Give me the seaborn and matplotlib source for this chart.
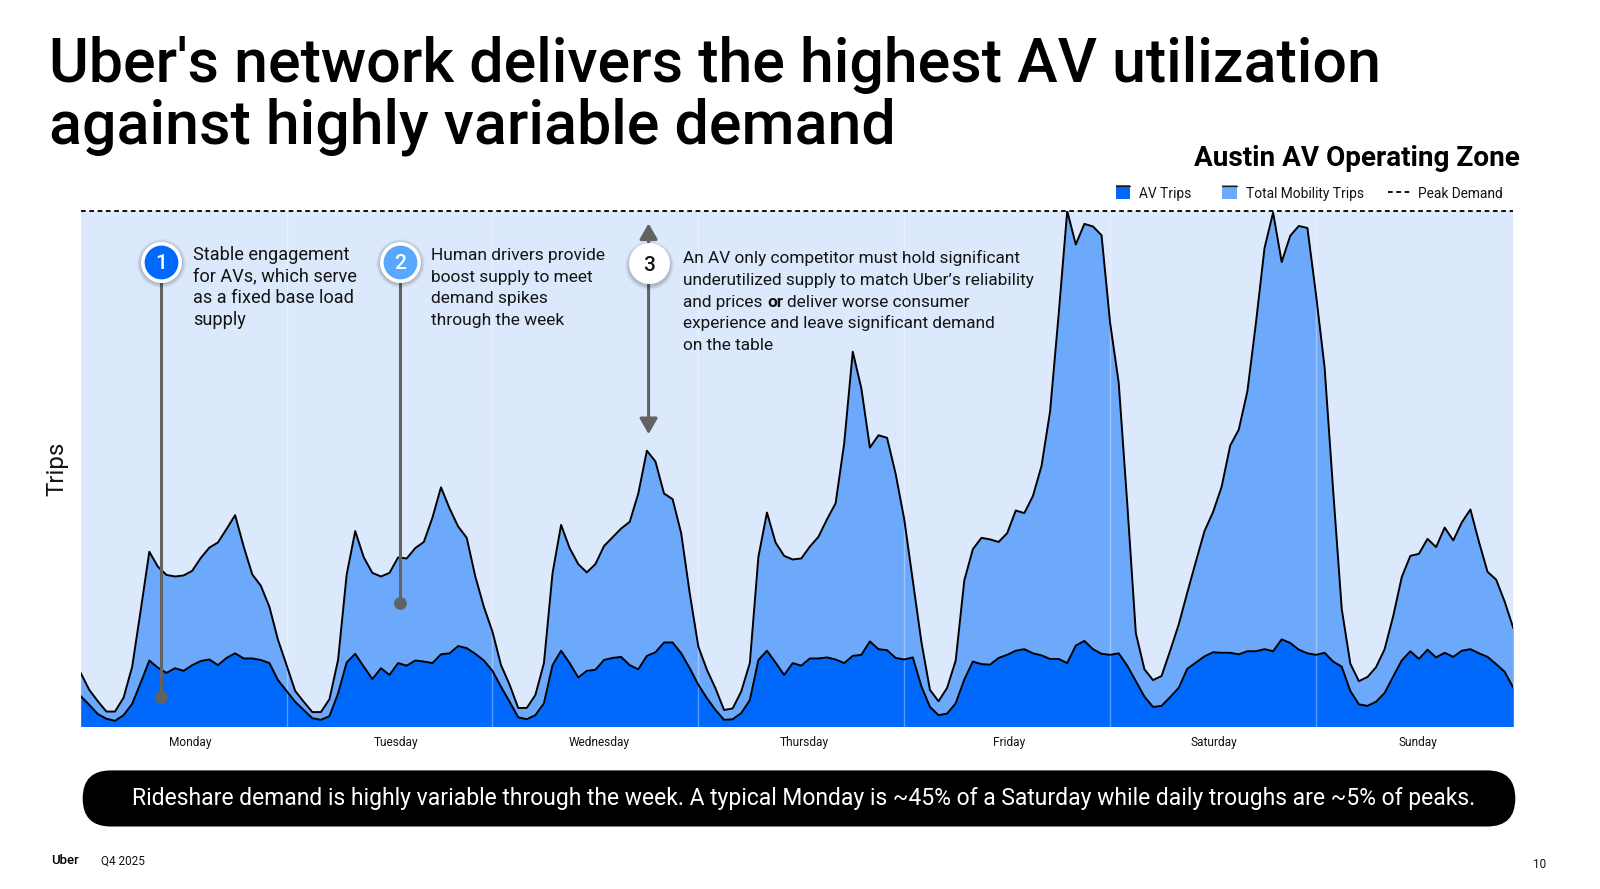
import matplotlib
matplotlib.use("Agg")
import matplotlib.pyplot as plt
import matplotlib.transforms as mtransforms
import numpy as np
import seaborn as sns
from matplotlib.lines import Line2D
from matplotlib.patches import FancyBboxPatch, Rectangle

DPI = 100
FIG_W, FIG_H = 1600, 889

# hourly trips for one week, scaled so the weekly peak = 100
TOTAL_TRIPS = [
    10.4, 7.1, 4.9, 2.9, 2.9, 5.6, 11.6, 22.6, 33.9, 31.0,
    29.4, 29.1, 29.3, 30.2, 32.7, 34.7, 35.7, 38.3, 41.0, 34.9,
    29.5, 27.3, 23.2, 16.8, 11.9, 6.9, 4.8, 2.8, 2.8, 5.3,
    12.9, 29.4, 37.9, 32.8, 29.8, 29.1, 29.8, 32.8, 32.6, 34.6,
    35.8, 40.5, 46.4, 42.3, 38.8, 36.6, 29.1, 23.2, 18.4, 11.9,
    8.1, 3.6, 3.6, 6.1, 12.3, 29.7, 39.1, 34.6, 31.5, 29.9,
    31.5, 35.0, 36.7, 38.4, 39.7, 45.2, 53.5, 51.4, 45.2, 44.1,
    37.5, 25.8, 15.5, 11.0, 7.4, 3.2, 3.5, 6.8, 12.3, 32.9,
    41.5, 35.7, 33.1, 32.4, 32.6, 34.9, 36.8, 40.2, 43.3, 54.9,
    72.7, 65.6, 54.1, 56.5, 56.0, 49.0, 40.2, 28.3, 16.4, 7.1,
    4.9, 7.5, 12.8, 28.3, 34.4, 36.6, 36.3, 35.8, 37.5, 41.9,
    41.4, 44.7, 50.5, 61.1, 79.9, 100.0, 93.5, 97.5, 97.0, 95.3,
    78.3, 66.7, 43.2, 18.1, 11.1, 9.0, 9.8, 14.7, 19.8, 26.0,
    32.0, 37.9, 41.6, 46.5, 54.5, 57.6, 65.0, 78.3, 92.8, 99.7,
    90.1, 95.2, 97.1, 96.7, 83.8, 69.7, 45.8, 22.8, 12.2, 8.8,
    9.6, 11.5, 15.0, 21.4, 29.0, 33.1, 33.5, 36.4, 34.8, 38.6,
    36.1, 39.6, 42.1, 35.8, 30.0, 28.5, 24.2, 19.1,
]
AV_TRIPS = [
    5.9, 4.2, 2.4, 1.5, 1.1, 2.2, 4.4, 8.5, 12.8, 11.4,
    10.4, 11.3, 10.8, 11.9, 12.7, 13.0, 11.9, 13.3, 14.2, 13.2,
    13.2, 12.9, 12.3, 9.0, 6.9, 4.8, 3.2, 1.6, 1.3, 2.0,
    6.4, 12.4, 14.1, 11.6, 9.2, 11.3, 10.0, 12.3, 11.8, 12.8,
    12.6, 12.3, 14.0, 14.2, 15.6, 15.2, 14.1, 12.8, 10.8, 7.7,
    4.8, 1.8, 1.4, 2.2, 4.5, 11.9, 14.7, 12.3, 9.5, 10.8,
    11.0, 12.9, 13.3, 13.5, 11.9, 11.1, 13.7, 14.4, 16.3, 16.3,
    14.2, 11.3, 8.1, 5.5, 3.2, 1.3, 1.4, 2.6, 5.1, 12.9,
    14.7, 12.4, 10.0, 12.3, 11.8, 13.2, 13.2, 13.4, 13.0, 12.3,
    13.7, 13.9, 16.5, 15.0, 14.8, 13.3, 13.0, 13.4, 7.8, 3.8,
    2.2, 2.5, 4.5, 9.1, 12.6, 12.1, 12.0, 13.3, 13.9, 14.7,
    15.0, 14.2, 13.8, 13.1, 13.1, 12.3, 15.7, 16.6, 15.0, 14.1,
    13.9, 14.2, 11.8, 8.8, 5.8, 3.8, 4.0, 5.7, 7.5, 11.2,
    12.4, 13.6, 14.4, 14.3, 14.3, 14.0, 14.6, 14.6, 15.0, 14.6,
    16.9, 16.2, 14.9, 14.2, 13.9, 14.3, 12.6, 11.6, 6.9, 4.3,
    4.0, 4.8, 6.5, 9.7, 12.8, 14.6, 13.1, 14.9, 13.4, 14.3,
    13.5, 14.7, 15.0, 14.2, 13.5, 12.1, 10.6, 7.5,
]
DAYS = ["Monday", "Tuesday", "Wednesday", "Thursday", "Friday", "Saturday", "Sunday"]
DAY_TICKS = [12.8, 36.7, 60.5, 84.4, 108.2, 132.1, 155.9]
DAY_BREAKS = [24, 48, 72, 96, 120, 144]

TITLE = ["Uber's network delivers the highest AV utilization", "against highly variable demand"]
SUBTITLE = "Austin AV Operating Zone"
NOTE_1 = ["Stable engagement", "for AVs, which serve", "as a fixed base load", "supply"]
NOTE_2 = ["Human drivers provide", "boost supply to meet", "demand spikes", "through the week"]
NOTE_3 = ["An AV only competitor must hold significant",
          "underutilized supply to match Uber\u2019s reliability",
          ("and prices", "or", "deliver worse consumer"),
          "experience and leave significant demand",
          "on the table"]
BANNER = ("Rideshare demand is highly variable through the week. A typical Monday is ~45% "
          "of a Saturday while daily troughs are ~5% of peaks.")

AV_BLUE = "#0068FA"
TOTAL_BLUE = "#6CA9FA"
BG_BLUE = "#DCE9FC"
MARK_BLUE = "#58A8FF"
GREY = "#626262"
INK = "#141414"

sns.set_theme(style="white", rc={"figure.dpi": DPI})
plt.rcParams["font.family"] = ["Roboto", "DejaVu Sans"]

fig = plt.figure(figsize=(FIG_W / DPI, FIG_H / DPI), dpi=DPI)
fig.patch.set_facecolor("white")
# pixel coordinates of the picture, y pointing down
PX = mtransforms.Affine2D().scale(1 / DPI, -1 / DPI).translate(0, FIG_H / DPI) + fig.dpi_scale_trans
renderer = fig.canvas.get_renderer()


def fit(texts, width):
    w = texts[0].get_window_extent(renderer).width
    size = texts[0].get_fontsize() * width / w
    for t in texts:
        t.set_fontsize(size)
    return size


def text_width(s, size, **kw):
    t = fig.text(0, 0, s, fontsize=size, **kw)
    w = t.get_window_extent(renderer).width
    t.remove()
    return w


ax_left, ax_right, ax_top, ax_bottom = 80.7, 1513.3, 211.0, 726.5
ax = fig.add_axes([ax_left / FIG_W, 1 - ax_bottom / FIG_H,
                   (ax_right - ax_left) / FIG_W, (ax_bottom - ax_top) / FIG_H])
ax.set_facecolor(BG_BLUE)

hours = np.arange(len(TOTAL_TRIPS))
total = np.array(TOTAL_TRIPS)
av = np.array(AV_TRIPS)
peak = total.max()

ax.fill_between(hours, av, total, color=TOTAL_BLUE, lw=0, zorder=1)
ax.fill_between(hours, 0, av, color=AV_BLUE, lw=0, zorder=1)
for b in DAY_BREAKS:
    ax.axvline(b, color="white", lw=1, alpha=0.35, zorder=2)
sns.lineplot(x=hours, y=total, color="black", lw=1.4, ax=ax, zorder=3)
sns.lineplot(x=hours, y=av, color="black", lw=1.4, ax=ax, zorder=3)
ax.axhline(peak, color="black", lw=1.3, dashes=(2.6, 2.0), clip_on=False, zorder=4)

ax.set_xlim(hours[0], hours[-1])
ax.set_ylim(0, peak)
ax.set_yticks([])
ax.set_xticks(DAY_TICKS, DAYS)
ax.tick_params(axis="x", length=0, pad=6.5, colors=INK)
for s in ax.spines.values():
    s.set_visible(False)
ax.set_ylabel("Trips", color=INK)
ax.yaxis.label.set_va("center")
ax.yaxis.set_label_coords(-0.0165, 0.5)


# numbered markers
def badge(x, y, label, face, fg, dot=None):
    if dot is not None:
        ax.plot([x, x], [dot, y], color=GREY, lw=2.2, solid_capstyle="butt", zorder=5)
        ax.plot([x], [dot], "o", ms=8.2, color=GREY, zorder=5)
    for ms, a in [(35, 0.05), (33, 0.07), (31, 0.09)]:
        ax.plot([x], [y - 0.35], "o", ms=ms, color="black", alpha=a, mew=0, zorder=6, clip_on=False)
    ax.plot([x], [y], "o", ms=26.9, mfc=face, mec="white", mew=2.6, zorder=7, clip_on=False)
    return ax.text(x, y, label, ha="center", va="center_baseline", color=fg, fontsize=15,
                   weight="medium", zorder=8)


ax.annotate("", xy=(66.2, 97.6), xytext=(66.2, 56.7),
            arrowprops=dict(arrowstyle="<|-|>,head_length=0.35,head_width=0.2", color=GREY, lw=2.2,
                            mutation_scale=27, shrinkA=0, shrinkB=0), zorder=5)
badge(9.33, 90.2, "1", AV_BLUE, "white", dot=5.7)
badge(37.2, 90.2, "2", MARK_BLUE, "white", dot=23.9)
badge(66.2, 89.9, "3", "white", INK)

# annotation texts
baselines = [260.0, 281.7, 303.3, 324.9]
n1 = [fig.text(192.7, y, s, transform=PX, fontsize=14, color=INK, va="baseline")
      for s, y in zip(NOTE_1, baselines)]
note_size = fit(n1, 157.3)
n2 = [fig.text(430.7, y, s, transform=PX, fontsize=note_size, color=INK, va="baseline")
      for s, y in zip(NOTE_2, baselines)]
fit(n2, 174.3)
baselines3 = [263.3, 285.0, 306.7, 328.4, 350.1]
n3 = []
for s, y in zip(NOTE_3, baselines3):
    if isinstance(s, str):
        n3.append(fig.text(683.3, y, s, transform=PX, fontsize=note_size, color=INK, va="baseline"))
n3_size = fit([n3[1]] + n3, 354.0)
space = text_width("a a", n3_size) - text_width("aa", n3_size)
x = 683.3
for part, weight in zip(NOTE_3[2], ["normal", "bold", "normal"]):
    t = fig.text(x, baselines3[2], part, transform=PX, fontsize=n3_size, color=INK,
                 va="baseline", weight=weight)
    x += t.get_window_extent(renderer).width + space

# title and subtitle
t1 = fig.text(49, 81.6, TITLE[0], transform=PX, fontsize=44, weight="medium", color="black",
              va="baseline")
t2 = fig.text(49, 143.0, TITLE[1], transform=PX, fontsize=44, weight="medium", color="black",
              va="baseline")
fit([t1, t2], 1332)
st = fig.text(1520, 166.0, SUBTITLE, transform=PX, fontsize=20, weight="bold", color="black",
              ha="right", va="baseline")
fit([st], 325)

# legend
for x0, c in [(1115.7, AV_BLUE), (1222.3, TOTAL_BLUE)]:
    fig.patches.append(Rectangle((x0, 185), 14.3, 14, transform=PX, color=c, lw=0))
    fig.lines.append(Line2D([x0, x0 + 14.3], [185.5, 185.5], transform=PX, color="#1a1a1a", lw=0.9))
fig.lines.append(Line2D([1388.3, 1411.7], [191.7, 191.7], transform=PX, color="black", lw=1.3,
                        dashes=(2.6, 2.0)))
lg = [fig.text(1245.7, 198.3, "Total Mobility Trips", transform=PX, fontsize=11, color=INK,
               va="baseline")]
lg_size = fit(lg, 116.7)
fig.text(1139, 198.3, "AV Trips", transform=PX, fontsize=lg_size, color=INK, va="baseline")
fig.text(1418.3, 198.3, "Peak Demand", transform=PX, fontsize=lg_size, color=INK, va="baseline")

# tick label size from the widest day name
wed = fig.text(0, 0, "Wednesday", fontsize=10)
tick_size = fit([wed], 61)
wed.remove()
ax.tick_params(axis="x", labelsize=tick_size)
trips = fig.text(0, 0, "Trips", fontsize=18)
ax.yaxis.label.set_fontsize(fit([trips], 54))
trips.remove()

# banner
fig.patches.append(FancyBboxPatch((82.7, 770.4), 1432.6, 56.1, transform=PX,
                                  boxstyle="round,pad=0,rounding_size=28", color="black", lw=0))
bn = fig.text(804, 798.5, BANNER, transform=PX, fontsize=16, color="white", ha="center",
              va="center")
fit([bn], 1341)

# footer
fig.text(50.7, 861, "Uber", transform=PX, fontsize=9.5, weight="medium", color="black",
         va="center")
fig.text(100.6, 861, "Q4 2025", transform=PX, fontsize=8.5, color=INK, va="center")
fig.text(1540, 865, "10", transform=PX, fontsize=8.5, color=INK, ha="center", va="center")

fig.savefig("out.png", dpi=DPI, facecolor="white")
